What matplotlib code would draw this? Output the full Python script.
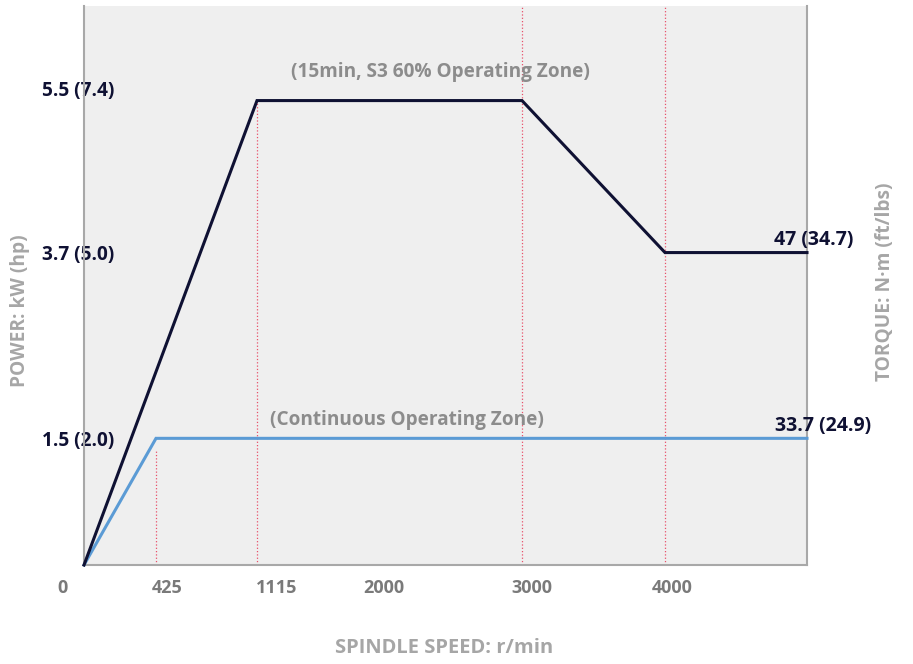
import numpy as np
import matplotlib.pyplot as plt
from matplotlib.transforms import ScaledTranslation

plt.rcParams['font.family'] = ['Open Sans', 'DejaVu Sans']
W = 'bold'

# spindle speed (r/min) and power (kW)
speed_s3 = [0, 1115, 3000, 4000, 5000]
power_s3 = [0, 5.5, 5.5, 3.7, 3.7]
speed_cont = [0, 425, 4000, 5000]
power_cont = [0, 1.5, 1.5, 1.5]

x_ticks = [0, 425, 1115, 2000, 3000, 4000]
y_ticks = [1.5, 3.7, 5.5]
y_labels = ['1.5 (2.0)', '3.7 (5.0)', '5.5 (7.4)']
torque_s3 = '47 (34.7)'
torque_cont = '33.7 (24.9)'

NAVY = '#0f1133'
BLUE = '#5b9bd5'
GRAY = '#8c8c8c'
RED = '#e8506a'

# the original chart is not drawn to a linear speed scale
knots_v = [0, 425, 1115, 3000, 4000, 5000]
knots_p = [0, 72, 173, 438, 581, 723]
fwd = lambda v: np.interp(v, knots_v, knots_p)
inv = lambda p: np.interp(p, knots_p, knots_v)

fig = plt.figure(figsize=(9.13, 6.64), dpi=100)
ax = fig.add_axes([84 / 913, 99 / 664, 723 / 913, 559 / 664])
ax.set_xscale('function', functions=(fwd, inv))
ax.set_facecolor('#efefef')
ax.set_xlim(0, 5000)
ax.set_ylim(0, 6.62)

# zone markers
ax.plot([425, 425], [0, 1.35], ls=':', color=RED, lw=0.9)
ax.plot([1115, 1115], [0, 5.5], ls=':', color=RED, lw=0.9)
ax.axvline(3000, ls=':', color=RED, lw=0.9)
ax.axvline(4000, ls=':', color=RED, lw=0.9)

ax.plot(speed_cont, power_cont, color=BLUE, lw=2.2, solid_joinstyle='miter', clip_on=False, zorder=3)
ax.plot(speed_s3, power_s3, color=NAVY, lw=2.2, solid_joinstyle='miter', clip_on=False, zorder=4)

ax.text(2420, 5.72, '(15min, S3 60% Operating Zone)', ha='center', va='bottom',
        fontsize=13.7, fontweight=W, color=GRAY)
ax.text(2180, 1.6, '(Continuous Operating Zone)', ha='center', va='bottom',
        fontsize=13.7, fontweight=W, color=GRAY)

ax.annotate(torque_s3, (speed_s3[-1], power_s3[-1]), xytext=(-24, 2), textcoords='offset points',
            ha='left', va='bottom', fontsize=14, fontweight=W, color=NAVY, annotation_clip=False)
ax.annotate(torque_cont, (speed_cont[-1], power_cont[-1]), xytext=(-23, 2), textcoords='offset points',
            ha='left', va='bottom', fontsize=14, fontweight=W, color=NAVY, annotation_clip=False)

for s in ['left', 'bottom', 'right']:
    ax.spines[s].set_color('#a8a8a8')
    ax.spines[s].set_linewidth(1.5)
ax.spines['top'].set_visible(False)

ax.set_xticks(x_ticks)
ax.set_xticklabels([str(t) for t in x_ticks])
ax.set_yticks(y_ticks)
ax.set_yticklabels(y_labels)
ax.tick_params(axis='x', length=0, pad=10, labelsize=13, labelcolor='#7a7a7a')
ax.tick_params(axis='y', length=0, pad=4, labelsize=13.7, labelcolor=NAVY)
ax.minorticks_off()

# nudge labels to where the original puts them
x_nudge = [-21, 11, 20, 2, 10, 7]
for lab, dx in zip(ax.get_xticklabels(), x_nudge):
    lab.set_fontweight(W)
    lab.set_transform(lab.get_transform() + ScaledTranslation(dx / 100, 0, fig.dpi_scale_trans))
for lab in ax.get_yticklabels():
    lab.set_fontweight(W)
    lab.set_ha('center')
    lab.set_zorder(5)
top = ax.get_yticklabels()[2]
top.set_transform(top.get_transform() + ScaledTranslation(0, 12 / 100, fig.dpi_scale_trans))

fig.text(20 / 913, 1 - 311 / 664, 'POWER: kW (hp)', rotation=90, ha='center', va='center',
         fontsize=13.8, fontweight=W, color='#a6a6a6')
fig.text(885 / 913, 1 - 282 / 664, 'TORQUE: N·m (ft/lbs)', rotation=90, ha='center', va='center',
         fontsize=13.8, fontweight=W, color='#a6a6a6')
fig.text(444 / 913, 1 - 648 / 664, 'SPINDLE SPEED: r/min', ha='center', va='center',
         fontsize=14.5, fontweight=W, color='#a6a6a6')

fig.savefig('out.png', dpi=100)
